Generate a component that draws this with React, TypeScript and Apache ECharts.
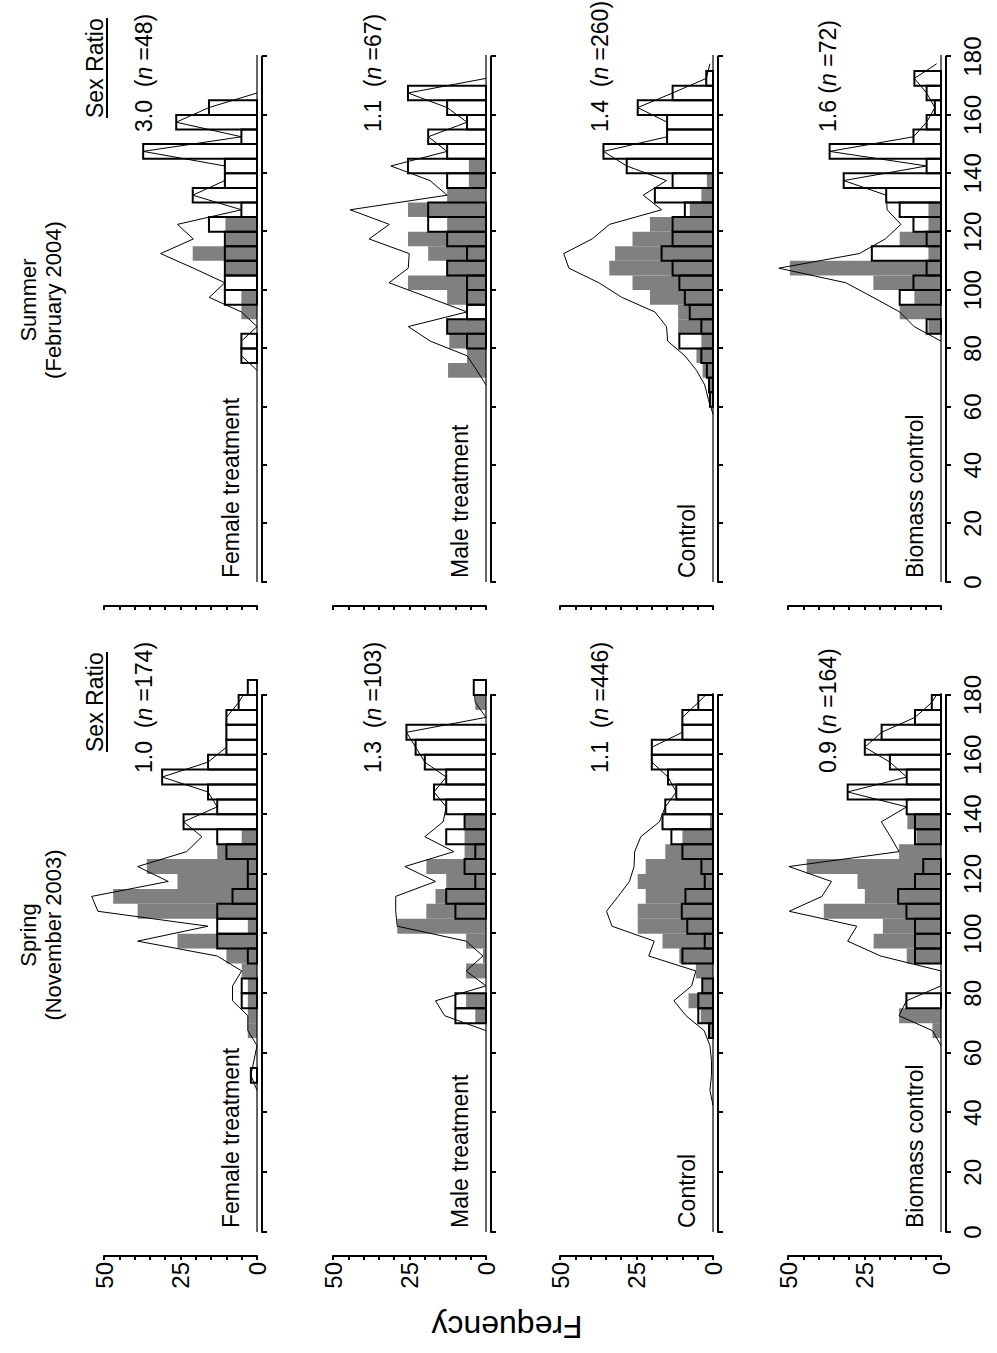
import React, { useEffect, useRef } from 'react';
import * as echarts from 'echarts';

const FONT = '"Liberation Sans", Arial, Helvetica, sans-serif';

// lower edges of the 5-unit size bins
const SIZE_BINS = [40, 45, 50, 55, 60, 65, 70, 75, 80, 85, 90, 95, 100, 105, 110, 115, 120, 125, 130, 135, 140, 145, 150, 155, 160, 165, 170, 175, 180];
const BIN_WIDTH = 5;
const SIZE_TICKS = [0, 20, 40, 60, 80, 100, 120, 140, 160, 180];
const FREQ_LABELS = [0, 25, 50];

const SEASONS = ['Spring', 'Summer'];
const SEASON_DATES = ['(November 2003)', '(February 2004)'];
const TREATMENTS = ['Female treatment', 'Male treatment', 'Control', 'Biomass control'];
const SEX_RATIO_SPRING = ['1.0', '1.3', '1.1', '0.9'];
const N_SPRING = ['174', '103', '446', '164'];
const SEX_RATIO_SUMMER = ['3.0', '1.1', '1.4', '1.6'];
const N_SUMMER = ['48', '67', '260', '72'];

// Spring (November 2003)
const SPRING_FEMALE_GRAY = [0, 0, 0, 0, 0, 3, 3, 3, 3, 5, 10, 26, 3, 39, 47, 26, 36, 13, 5, 0, 0, 0, 0, 0, 0, 0, 0, 0, 0];
const SPRING_FEMALE_MALE = [0, 0, 2, 0, 0, 0, 0, 5, 5, 0, 3, 13, 13, 13, 8, 3, 3, 10, 13, 24, 13, 16, 31, 16, 10, 10, 10, 6, 3];
const SPRING_FEMALE_TOTAL = [null, 0, 2, 1, 0, 3, 3, 8, 8, 5, 13, 39, 16, 52, 54, 29, 39, 23, 18, 24, 13, 16, 31, 16, 10, 10, 10, 6, 3];

const SPRING_MALE_GRAY = [0, 0, 0, 0, 0, 0, 3.5, 6.5, 0, 6.5, 1, 6.5, 29, 19.5, 16.5, 13, 19.5, 7, 7, 7, 0, 0, 0, 0, 0, 0, 0, 3.5, 0];
const SPRING_MALE_MALE = [0, 0, 0, 0, 0, 0, 10, 10, 0, 0, 0, 0, 0, 10, 13, 3.5, 7, 3.5, 13, 7, 13, 17, 13, 20, 23, 26, 0, 0, 4];
const SPRING_MALE_TOTAL = [null, null, null, null, null, 0, 13.5, 16.5, 0, 6.5, 1, 6.5, 29, 29.5, 29.5, 16.5, 26.5, 10.5, 20, 14, 13, 17, 13, 20, 23, 26, 0, 3.5, 4];

const SPRING_CONTROL_GRAY = [0, 0, 0, 0, 0, 1.6, 4, 8, 3.5, 5.6, 11, 16.5, 24.6, 24.6, 22, 24.6, 22, 15.6, 10, 1, 0, 0, 0, 0, 0, 0, 0, 0, 0];
const SPRING_CONTROL_MALE = [0, 0, 0, 0, 0, 1.3, 4.8, 4.8, 3.5, 0, 10, 2.7, 8.4, 10.2, 9, 2.7, 3.8, 10, 13.6, 16.5, 15.6, 12, 14.7, 20, 20, 10, 10, 4.8, 0];
const SPRING_CONTROL_TOTAL = [0, 1, 0.5, 0.5, 1, 2.9, 8.8, 12.8, 7, 5.6, 21, 19.2, 33, 34.8, 31, 27.3, 25.8, 25.6, 23.6, 17.5, 15.6, 12, 14.7, 20, 20, 10, 10, 4.8, 0];

const SPRING_BIOMASS_GRAY = [0, 0, 0, 0, 0, 2.8, 13.7, 0, 0, 0, 11.2, 22, 19, 38.3, 24.9, 27.3, 43.9, 13.7, 8, 11, 0, 0, 0, 0, 0, 0, 0, 0, 0];
const SPRING_BIOMASS_MALE = [0, 0, 0, 0, 0, 0, 0, 11.3, 0, 0, 8.5, 8.5, 8.5, 11.3, 14, 8.5, 5.8, 0, 8.5, 8.5, 11.2, 30.5, 11.2, 16.7, 24.9, 19.4, 8.5, 3, 0];
const SPRING_BIOMASS_TOTAL = [null, null, null, null, 0, 2.8, 13.7, 11.3, 0, 0, 19.7, 30.5, 27.5, 49.6, 38.9, 35.8, 49.7, 13.7, 16.5, 19.5, 11.2, 30.5, 11.2, 16.7, 24.9, 19.4, 8.5, 3, 0];

// Summer (February 2004)
const SUMMER_FEMALE_GRAY = [0, 0, 0, 0, 0, 0, 0, 0, 0, 0, 5.1, 5.1, 0, 10.3, 21, 10.3, 10.3, 0, 0, 0, 0, 0, 0, 0, 0, 0, 0, 0, 0];
const SUMMER_FEMALE_MALE = [0, 0, 0, 0, 0, 0, 0, 5.1, 5.1, 0, 0, 10.5, 10.5, 10.5, 10.5, 10.5, 15.7, 5.1, 21, 10.5, 10.5, 37.2, 5.1, 26.4, 15.7, 0, 0, 0, 0];
const SUMMER_FEMALE_TOTAL = [null, null, null, null, null, null, 0, 5.1, 5.1, 0, 5.1, 15.6, 10.5, 20.8, 31.5, 20.8, 26, 5.1, 21, 10.5, 10.5, 37.2, 5.1, 26.4, 15.7, 0, null, null, null];

const SUMMER_MALE_GRAY = [0, 0, 0, 0, 0, 0, 12.4, 6.2, 12, 12.7, 0, 12.7, 25.5, 12.7, 18.9, 25.5, 12.7, 25.5, 12.7, 5.6, 5.6, 0, 0, 0, 0, 0, 0, 0, 0];
const SUMMER_MALE_MALE = [0, 0, 0, 0, 0, 0, 0, 0, 6.2, 12.7, 6.2, 6.2, 6.2, 12.7, 6.2, 12.7, 18.9, 18.9, 0, 12.7, 25.5, 12.7, 18.9, 6.2, 12.7, 25.5, 0, 0, 0];
const SUMMER_MALE_TOTAL = [null, null, null, null, null, 0, 3, 6.2, 18.2, 25.4, 6.2, 18.9, 31.7, 25.4, 25.1, 38.2, 31.6, 44.4, 12.7, 18.3, 31.1, 12.7, 18.9, 6.2, 12.7, 25.5, 0, null, null];

const SUMMER_CONTROL_GRAY = [0, 0, 0, 0, 0.5, 1.4, 3.4, 5.4, 3.8, 11.4, 11.4, 20.6, 26.3, 33.9, 32, 26.3, 20.6, 7.6, 3.8, 2, 0, 0, 0, 0, 0, 0, 0, 0, 0];
const SUMMER_CONTROL_MALE = [0, 0, 0, 0, 1, 1.3, 2, 3.8, 11, 3.8, 7.6, 9.2, 11, 13.2, 16.8, 13.2, 13.2, 9.2, 19, 13.2, 28.2, 35.8, 15, 15, 24.6, 13.2, 2.2, 0, 0];
const SUMMER_CONTROL_TOTAL = [null, null, null, 0, 1.5, 2.7, 5.4, 9.2, 14.8, 15.2, 19, 29.8, 37.3, 47.1, 48.8, 39.5, 33.8, 16.8, 22.8, 15.2, 28.2, 35.8, 15, 15, 24.6, 13.2, 2.2, 1, null];

const SUMMER_BIOMASS_GRAY = [0, 0, 0, 0, 0, 0, 0, 0, 0, 4.1, 13.5, 8.7, 22.1, 49.4, 4.1, 13.5, 4.1, 4.1, 0, 0, 0, 0, 0, 0, 0, 0, 0, 0, 0];
const SUMMER_BIOMASS_MALE = [0, 0, 0, 0, 0, 0, 0, 0, 0, 4.7, 0, 13.5, 9, 4.7, 22.6, 4.7, 9, 13.5, 17.9, 31.8, 4.7, 36.4, 9, 4.7, 2, 4.7, 8.7, 0, 0];
const SUMMER_BIOMASS_TOTAL = [null, null, null, null, null, null, null, null, 0, 8.8, 13.5, 22.2, 31.1, 53, 26.7, 18.2, 13.1, 17.6, 17.9, 31.8, 4.7, 36.4, 9, 4.7, 2, 4.7, 8.7, 1.4, null];

const PANEL_DATA = [
  [
    [SPRING_FEMALE_GRAY, SPRING_FEMALE_MALE, SPRING_FEMALE_TOTAL],
    [SPRING_MALE_GRAY, SPRING_MALE_MALE, SPRING_MALE_TOTAL],
    [SPRING_CONTROL_GRAY, SPRING_CONTROL_MALE, SPRING_CONTROL_TOTAL],
    [SPRING_BIOMASS_GRAY, SPRING_BIOMASS_MALE, SPRING_BIOMASS_TOTAL],
  ],
  [
    [SUMMER_FEMALE_GRAY, SUMMER_FEMALE_MALE, SUMMER_FEMALE_TOTAL],
    [SUMMER_MALE_GRAY, SUMMER_MALE_MALE, SUMMER_MALE_TOTAL],
    [SUMMER_CONTROL_GRAY, SUMMER_CONTROL_MALE, SUMMER_CONTROL_TOTAL],
    [SUMMER_BIOMASS_GRAY, SUMMER_BIOMASS_MALE, SUMMER_BIOMASS_TOTAL],
  ],
];

// layout of the unrotated figure (it is turned 90° counter-clockwise on the page)
const FIG_W = 1353;
const FIG_H = 997;
const ROW_TOP = [104, 333, 560, 788];
const ROW_H = 153;
const COL_LEFT = [121, 771];
const COL_W = [537, 525.5];
const SR_LEFT = [580, 1221];
const SEXRATIO_LEFT = [601, 1235];
const TITLE_X = [418, 1053];

function buildOption() {
  const grid: any[] = [];
  const xAxis: any[] = [];
  const yAxis: any[] = [];
  const series: any[] = [];
  const graphic: any[] = [];

  const barRender = (filled: boolean) => (params: any, api: any) => {
    const x = api.value(0);
    const f = api.value(1);
    const a = api.coord([x, f]);
    const b = api.coord([x + BIN_WIDTH, 0]);
    return {
      type: 'rect',
      shape: { x: a[0], y: a[1], width: b[0] - a[0], height: b[1] - a[1] },
      style: filled
        ? { fill: '#808080' }
        : { fill: 'none', stroke: '#000', lineWidth: 2 },
    };
  };

  for (let c = 0; c < 2; c++) {
    for (let r = 0; r < 4; r++) {
      const idx = c * 4 + r;
      grid.push({ left: COL_LEFT[c], top: ROW_TOP[r], width: COL_W[c], height: ROW_H, containLabel: false });
      xAxis.push({
        type: 'value',
        gridIndex: idx,
        position: 'bottom',
        min: SIZE_TICKS[0],
        max: SIZE_TICKS[SIZE_TICKS.length - 1],
        interval: 20,
        offset: 5,
        axisLine: { show: true, onZero: false, lineStyle: { color: '#000', width: 2 } },
        axisTick: { show: true, length: 5, lineStyle: { color: '#000', width: 2 } },
        axisLabel: {
          show: r === 3,
          fontSize: 24,
          fontFamily: FONT,
          color: '#000',
          margin: 14,
          showMinLabel: true,
          showMaxLabel: true,
        },
        splitLine: { show: false },
      });
      yAxis.push({
        type: 'value',
        gridIndex: idx,
        position: 'left',
        min: 0,
        max: 50,
        interval: 5,
        offset: 24,
        axisLine: { show: true, onZero: false, lineStyle: { color: '#000', width: 2 } },
        axisTick: { show: true, length: 4, lineStyle: { color: '#000', width: 2 } },
        axisLabel: {
          show: c === 0,
          fontSize: 24,
          fontFamily: FONT,
          color: '#000',
          margin: 6,
          formatter: (v: number) => (FREQ_LABELS.indexOf(v) >= 0 ? String(v) : ''),
        },
        splitLine: { show: false },
      });

      const [gray, male, total] = PANEL_DATA[c][r];
      series.push({
        type: 'custom',
        xAxisIndex: idx,
        yAxisIndex: idx,
        renderItem: barRender(true),
        clip: false,
        data: SIZE_BINS.map((s, i) => [s, gray[i]]).filter((d) => (d[1] as number) > 0),
      });
      series.push({
        type: 'custom',
        xAxisIndex: idx,
        yAxisIndex: idx,
        renderItem: barRender(false),
        clip: false,
        data: SIZE_BINS.map((s, i) => [s, male[i]]).filter((d) => (d[1] as number) > 0),
      });
      series.push({
        type: 'line',
        xAxisIndex: idx,
        yAxisIndex: idx,
        clip: false,
        symbol: 'none',
        lineStyle: { color: '#000', width: 1 },
        data: SIZE_BINS.map((s, i) => [s + BIN_WIDTH / 2, total[i]]),
      });
      series.push({
        type: 'line',
        xAxisIndex: idx,
        yAxisIndex: idx,
        clip: false,
        symbol: 'none',
        lineStyle: { color: '#000', width: 1.2 },
        data: [[0, 0], [SIZE_BINS[SIZE_BINS.length - 1] + BIN_WIDTH, 0]],
      });

      // treatment label
      graphic.push({
        type: 'text',
        x: COL_LEFT[c] + 4,
        y: ROW_TOP[r] + ROW_H - 26,
        style: {
          text: TREATMENTS[r],
          fontSize: 23,
          fontFamily: FONT,
          fill: '#000',
          align: 'left',
          verticalAlign: 'middle',
          textAlign: 'left',
          textVerticalAlign: 'middle',
        },
      });
      // sex ratio value
      const ratio = c === 0 ? SEX_RATIO_SPRING[r] : SEX_RATIO_SUMMER[r];
      const n = c === 0 ? N_SPRING[r] : N_SUMMER[r];
      const gap = r === 3 ? ' ' : '  ';
      graphic.push({
        type: 'text',
        x: SR_LEFT[c],
        y: ROW_TOP[r] + 40,
        style: {
          text: ratio + gap + '({i|n} =' + n + ')',
          rich: { i: { fontStyle: 'italic', fontSize: 23, fontFamily: FONT, fill: '#000' } },
          fontSize: 23,
          fontFamily: FONT,
          fill: '#000',
          align: 'left',
          verticalAlign: 'middle',
          textAlign: 'left',
          textVerticalAlign: 'middle',
        },
      });
    }
    // season titles
    graphic.push({
      type: 'text',
      x: TITLE_X[c],
      y: 28,
      style: { text: SEASONS[c], fontSize: 22, fontFamily: FONT, fill: '#000', align: 'center', verticalAlign: 'middle', textAlign: 'center', textVerticalAlign: 'middle' },
    });
    graphic.push({
      type: 'text',
      x: TITLE_X[c],
      y: 53,
      style: { text: SEASON_DATES[c], fontSize: 22, fontFamily: FONT, fill: '#000', align: 'center', verticalAlign: 'middle', textAlign: 'center', textVerticalAlign: 'middle' },
    });
    // "Sex Ratio" heading with underline
    graphic.push({
      type: 'text',
      x: SEXRATIO_LEFT[c],
      y: 95,
      style: { text: 'Sex Ratio', fontSize: 23, fontFamily: FONT, fill: '#000', align: 'left', verticalAlign: 'middle', textAlign: 'left', textVerticalAlign: 'middle' },
    });
    graphic.push({
      type: 'line',
      shape: { x1: SEXRATIO_LEFT[c], y1: 107, x2: SEXRATIO_LEFT[c] + 100, y2: 107 },
      style: { stroke: '#000', lineWidth: 2 },
    });
  }

  graphic.push({
    type: 'text',
    x: 26,
    y: 507,
    rotation: Math.PI / 2,
    style: { text: 'Frequency', fontSize: 32, fontFamily: FONT, fill: '#000', align: 'center', verticalAlign: 'middle', textAlign: 'center', textVerticalAlign: 'middle' },
  });

  return {
    animation: false,
    backgroundColor: '#fff',
    grid,
    xAxis,
    yAxis,
    series,
    graphic: { elements: graphic },
  };
}

export default function App() {
  const ref = useRef<HTMLDivElement>(null);
  useEffect(() => {
    if (!ref.current) return;
    const chart = echarts.init(ref.current, null, { renderer: 'svg' });
    chart.setOption(buildOption() as any);
    return () => chart.dispose();
  }, []);
  return (
    <div style={{ position: 'absolute', left: 0, top: 0, width: 997, height: 1353, overflow: 'hidden', background: '#fff' }}>
      <div
        ref={ref}
        style={{
          position: 'absolute',
          left: 0,
          top: 0,
          width: FIG_W,
          height: FIG_H,
          transformOrigin: '0 0',
          transform: `translateY(${FIG_W}px) rotate(-90deg)`,
        }}
      />
    </div>
  );
}
